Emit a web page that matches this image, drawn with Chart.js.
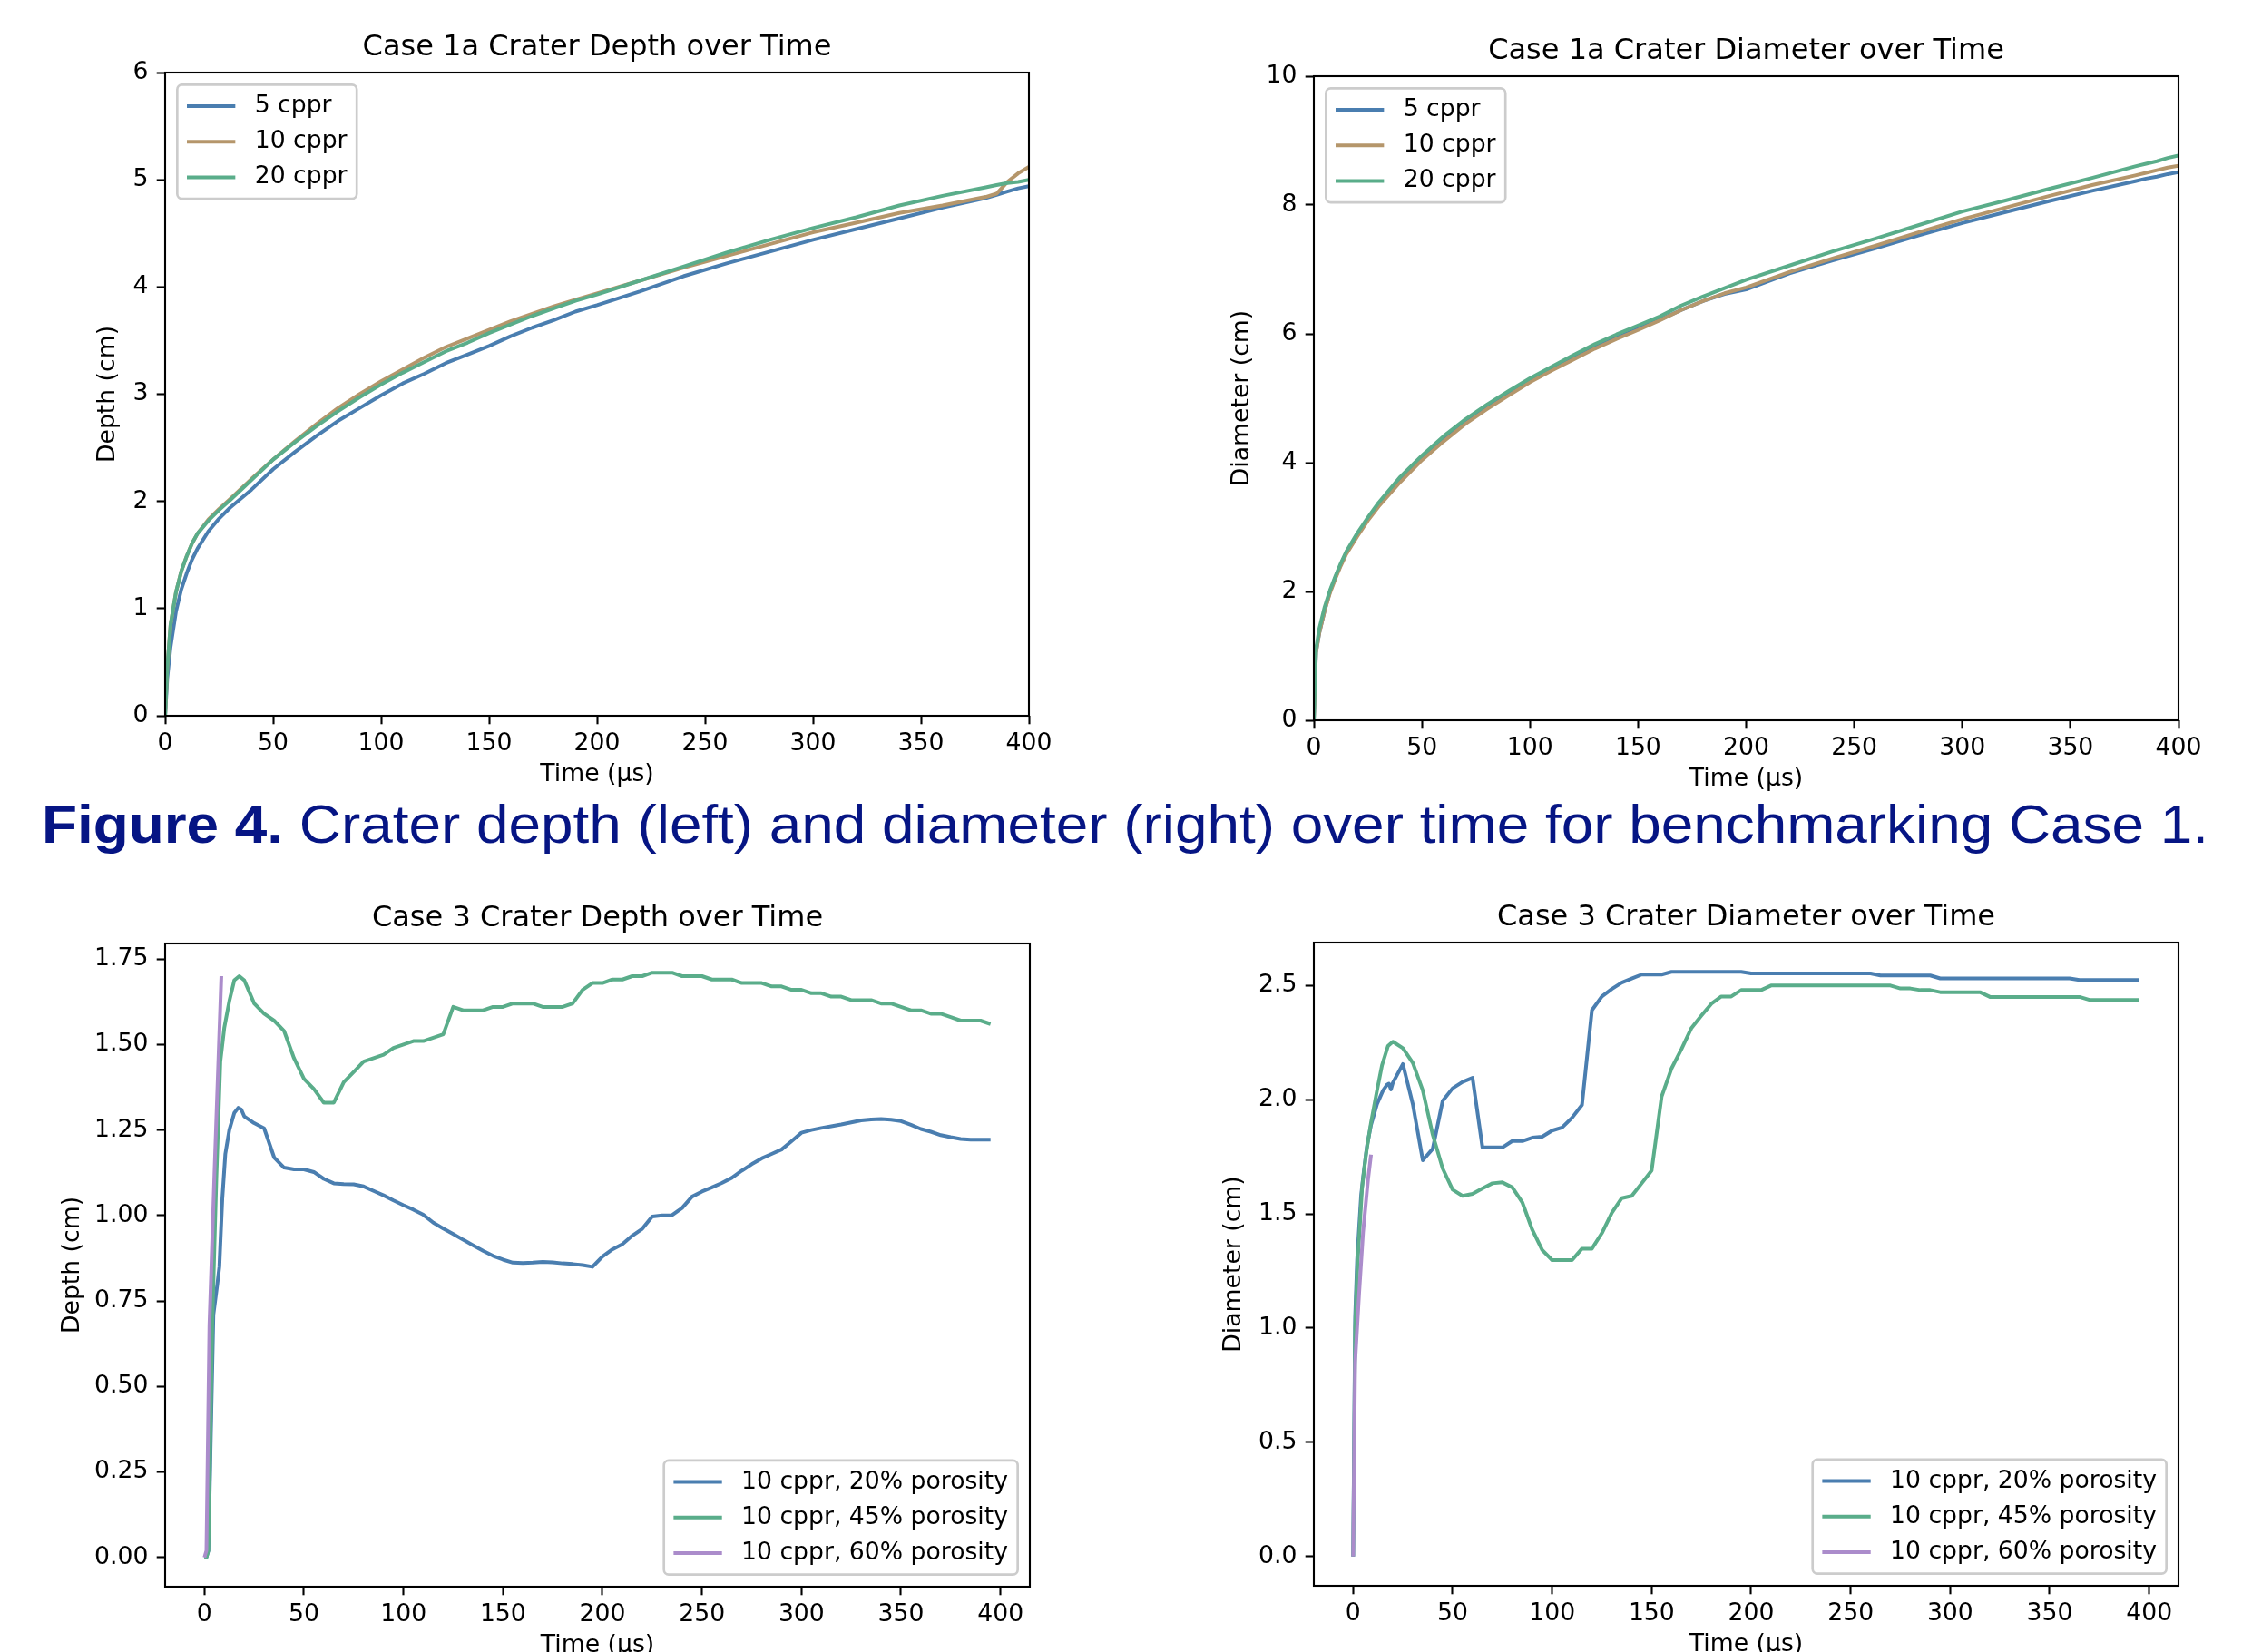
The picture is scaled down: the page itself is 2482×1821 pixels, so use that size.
<!DOCTYPE html>
<html>
<head>
<meta charset="utf-8">
<script src="https://cdn.jsdelivr.net/npm/chart.js@4.4.1/dist/chart.umd.min.js"></script>
<style>
  html, body { margin: 0; padding: 0; background: #fff; overflow: hidden; width: 2482px; height: 1821px; }
  canvas { position: absolute; }
  #caption {
    position: absolute; left: 46px; top: 879px;
    font-family: "Liberation Sans", Arial, sans-serif; font-size: 60px; line-height: 60px;
    color: #061584; white-space: nowrap; transform-origin: 0 0;
  }
</style>
</head>
<body>
<canvas id="depth1"></canvas>
<canvas id="diam1"></canvas>
<canvas id="depth3"></canvas>
<canvas id="diam3"></canvas>
<div id="caption"><b>Figure 4.</b> Crater depth (left) and diameter (right) over time for benchmarking Case 1.</div>
<script>
// ---- data ----
const case1Time = [0, 1, 2.5, 5, 7.5, 10, 12.5, 15, 20, 25, 30, 40, 50, 60, 70, 80, 90, 100, 110, 120,
  130, 140, 150, 160, 170, 180, 190, 200, 220, 240, 260, 280, 300, 320, 340, 360, 380, 385, 390, 395, 400];

const depth5 = [0, 0.35, 0.64, 0.97, 1.18, 1.33, 1.46, 1.56, 1.72, 1.84, 1.94, 2.11, 2.30, 2.46, 2.61, 2.75, 2.87, 2.99, 3.10, 3.19,
  3.29, 3.37, 3.45, 3.54, 3.62, 3.69, 3.77, 3.83, 3.96, 4.10, 4.22, 4.33, 4.44, 4.54, 4.64, 4.74, 4.83, 4.86, 4.89, 4.92, 4.94];
const depth10 = [0, 0.45, 0.85, 1.15, 1.35, 1.49, 1.61, 1.70, 1.83, 1.93, 2.02, 2.21, 2.39, 2.56, 2.72, 2.87, 3.00, 3.12, 3.23, 3.34,
  3.44, 3.52, 3.60, 3.68, 3.75, 3.82, 3.88, 3.94, 4.06, 4.18, 4.29, 4.40, 4.51, 4.60, 4.69, 4.76, 4.84, 4.87, 4.98, 5.06, 5.12];
const depth20 = [0, 0.45, 0.85, 1.15, 1.35, 1.49, 1.61, 1.70, 1.82, 1.92, 2.01, 2.20, 2.39, 2.55, 2.70, 2.84, 2.97, 3.09, 3.20, 3.30,
  3.40, 3.48, 3.57, 3.65, 3.73, 3.80, 3.87, 3.93, 4.06, 4.19, 4.32, 4.44, 4.55, 4.65, 4.76, 4.85, 4.93, 4.95, 4.97, 4.98, 5.00];

const diam5 = [0, 1.05, 1.35, 1.70, 2.00, 2.22, 2.42, 2.60, 2.87, 3.13, 3.35, 3.75, 4.09, 4.38, 4.64, 4.86, 5.07, 5.28, 5.45, 5.63,
  5.79, 5.94, 6.08, 6.22, 6.37, 6.51, 6.62, 6.69, 6.94, 7.14, 7.33, 7.53, 7.72, 7.89, 8.06, 8.22, 8.37, 8.41, 8.44, 8.48, 8.51];
const diam10 = [0, 1.05, 1.35, 1.70, 1.98, 2.20, 2.40, 2.58, 2.85, 3.10, 3.32, 3.70, 4.04, 4.33, 4.60, 4.83, 5.04, 5.25, 5.43, 5.60,
  5.77, 5.92, 6.06, 6.21, 6.37, 6.51, 6.63, 6.72, 6.96, 7.17, 7.37, 7.58, 7.78, 7.96, 8.14, 8.31, 8.46, 8.50, 8.54, 8.58, 8.61];
const diam20 = [0, 1.10, 1.42, 1.76, 2.02, 2.24, 2.44, 2.62, 2.90, 3.15, 3.38, 3.78, 4.11, 4.41, 4.67, 4.90, 5.11, 5.31, 5.49, 5.67,
  5.84, 5.99, 6.13, 6.27, 6.44, 6.58, 6.71, 6.84, 7.06, 7.28, 7.48, 7.69, 7.90, 8.07, 8.25, 8.42, 8.60, 8.64, 8.68, 8.73, 8.77];

// case 3: [time, value]
const c3Depth20 = [[0,0],[1,0],[2,0.02],[4.5,0.71],[6.5,0.80],[7.5,0.85],[9,1.05],[10.5,1.18],[12.5,1.25],[15,1.30],
  [17,1.315],[18.5,1.31],[20,1.29],[25,1.27],[30,1.255],[35,1.17],[40,1.14],[45,1.135],[50,1.135],[55,1.127],[60,1.107],
  [65,1.094],[70,1.092],[75,1.091],[80,1.085],[85,1.072],[90,1.059],[95,1.044],[100,1.03],[105,1.017],[110,1.002],
  [115,0.979],[120,0.962],[125,0.946],[130,0.929],[135,0.913],[140,0.897],[145,0.882],[150,0.871],[155,0.862],[160,0.861],
  [165,0.862],[170,0.864],[175,0.863],[180,0.86],[185,0.858],[190,0.855],[195,0.85],[200,0.88],[205,0.901],[210,0.916],
  [215,0.941],[220,0.961],[225,0.997],[230,1.0],[235,1.001],[240,1.022],[245,1.055],[250,1.07],[255,1.082],[260,1.095],
  [265,1.11],[270,1.131],[275,1.15],[280,1.167],[285,1.18],[290,1.193],[295,1.217],[300,1.242],[305,1.25],[310,1.256],
  [315,1.261],[320,1.266],[325,1.272],[330,1.278],[335,1.281],[340,1.282],[345,1.28],[350,1.276],[355,1.265],[360,1.253],
  [365,1.245],[370,1.235],[375,1.229],[380,1.224],[385,1.222],[390,1.222],[395,1.222]];
const c3Depth45 = [[0,0],[1,0],[2,0.02],[4,0.70],[6,1.11],[8,1.45],[10,1.55],[12.5,1.627],[15,1.688],[17.5,1.70],[20,1.688],
  [25,1.62],[30,1.59],[35,1.57],[40,1.54],[45,1.46],[50,1.40],[55,1.37],[60,1.33],[65,1.33],[70,1.39],[75,1.42],[80,1.45],
  [85,1.46],[90,1.47],[95,1.49],[100,1.50],[105,1.51],[110,1.51],[115,1.52],[120,1.53],[125,1.61],[130,1.60],[135,1.60],
  [140,1.60],[145,1.61],[150,1.61],[155,1.62],[160,1.62],[165,1.62],[170,1.61],[175,1.61],[180,1.61],[185,1.62],[190,1.66],
  [195,1.68],[200,1.68],[205,1.69],[210,1.69],[215,1.70],[220,1.70],[225,1.71],[230,1.71],[235,1.71],[240,1.70],[245,1.70],
  [250,1.70],[255,1.69],[260,1.69],[265,1.69],[270,1.68],[275,1.68],[280,1.68],[285,1.67],[290,1.67],[295,1.66],[300,1.66],
  [305,1.65],[310,1.65],[315,1.64],[320,1.64],[325,1.63],[330,1.63],[335,1.63],[340,1.62],[345,1.62],[350,1.61],[355,1.60],
  [360,1.60],[365,1.59],[370,1.59],[375,1.58],[380,1.57],[385,1.57],[390,1.57],[395,1.56]];
const c3Depth60 = [[0,0],[1,0.02],[2.5,0.68],[5,1.12],[8.5,1.70]];

const c3Diam20 = [[0,0],[1,1.05],[2,1.30],[4,1.58],[5,1.66],[7,1.80],[9,1.89],[12,1.98],[15,2.04],[17,2.065],[18,2.07],
  [19,2.045],[20,2.075],[25,2.156],[30,1.98],[35,1.735],[40,1.785],[45,1.995],[50,2.05],[55,2.078],[60,2.096],[65,1.791],
  [70,1.791],[75,1.791],[80,1.819],[85,1.819],[90,1.834],[95,1.838],[100,1.865],[105,1.878],[110,1.921],[115,1.977],
  [120,2.392],[125,2.452],[130,2.485],[135,2.513],[140,2.531],[145,2.548],[150,2.548],[155,2.548],[160,2.56],[165,2.56],
  [170,2.56],[175,2.56],[180,2.56],[185,2.56],[190,2.56],[195,2.56],[200,2.553],[205,2.553],[210,2.553],[215,2.553],
  [220,2.553],[225,2.553],[230,2.553],[235,2.553],[240,2.553],[245,2.553],[250,2.553],[255,2.553],[260,2.553],[265,2.544],
  [270,2.544],[275,2.544],[280,2.544],[285,2.544],[290,2.544],[295,2.531],[300,2.531],[305,2.531],[310,2.531],[315,2.531],
  [320,2.531],[325,2.531],[330,2.531],[335,2.531],[340,2.531],[345,2.531],[350,2.531],[355,2.531],[360,2.531],[365,2.524],
  [370,2.524],[375,2.524],[380,2.524],[385,2.524],[390,2.524],[395,2.524]];
const c3Diam45 = [[0,0],[1,1.0],[2,1.246],[4.5,1.616],[6.5,1.764],[9,1.90],[12,2.04],[14.5,2.15],[17.5,2.235],[20,2.254],
  [25,2.226],[30,2.161],[35,2.041],[40,1.847],[45,1.699],[50,1.606],[55,1.579],[60,1.588],[65,1.612],[70,1.634],[75,1.638],
  [80,1.616],[85,1.551],[90,1.431],[95,1.342],[100,1.298],[105,1.298],[110,1.298],[115,1.348],[120,1.348],[125,1.416],
  [130,1.505],[135,1.569],[140,1.579],[145,1.634],[150,1.69],[155,2.013],[160,2.137],[165,2.222],[170,2.314],[175,2.368],
  [180,2.42],[185,2.452],[190,2.452],[195,2.48],[200,2.48],[205,2.48],[210,2.50],[215,2.50],[220,2.50],[225,2.50],
  [230,2.50],[235,2.50],[240,2.50],[245,2.50],[250,2.50],[255,2.50],[260,2.50],[265,2.50],[270,2.50],[275,2.487],
  [280,2.487],[285,2.48],[290,2.48],[295,2.471],[300,2.471],[305,2.471],[310,2.471],[315,2.471],[320,2.45],[325,2.45],
  [330,2.45],[335,2.45],[340,2.45],[345,2.45],[350,2.45],[355,2.45],[360,2.45],[365,2.45],[370,2.437],[375,2.437],
  [380,2.437],[385,2.437],[390,2.437],[395,2.437]];
const c3Diam60 = [[0,0],[1,0.85],[3,1.15],[5,1.42],[7.5,1.65],[9,1.76]];

const case1XTicks = [0, 50, 100, 150, 200, 250, 300, 350, 400];
const case3XTicks = [0, 50, 100, 150, 200, 250, 300, 350, 400];
const depth1YTicks = [0, 1, 2, 3, 4, 5, 6];
const diam1YTicks = [0, 2, 4, 6, 8, 10];
const depth3YTicks = [0, 0.25, 0.5, 0.75, 1.0, 1.25, 1.5, 1.75];
const diam3YTicks = [0, 0.5, 1.0, 1.5, 2.0, 2.5];

const case1Labels = ["5 cppr", "10 cppr", "20 cppr"];
const case3Labels = ["10 cppr, 20% porosity", "10 cppr, 45% porosity", "10 cppr, 60% porosity"];

const BLUE = "#4a7eb0", TAN = "#b5966b", GREEN = "#5aad8a", PURPLE = "#ab8ccb";

// ---- drawing ----
const FONT = "DejaVu Sans";
const FS = 26.67;
Chart.defaults.font.family = FONT;
Chart.defaults.color = "#000";

function zip(xs, ys) { return xs.map((x, i) => ({ x: x, y: ys[i] })); }
function fromPairs(p) { return p.map(d => ({ x: d[0], y: d[1] })); }

// axes box drawn over the lines like matplotlib spines
const framePlugin = {
  id: "frame",
  afterDatasetsDraw(chart) {
    const { ctx, chartArea: a } = chart;
    ctx.save();
    ctx.strokeStyle = "#000";
    ctx.lineWidth = 2.1;
    ctx.strokeRect(a.left, a.top, a.right - a.left, a.bottom - a.top);
    ctx.restore();
  }
};

// legend inside the axes, matplotlib-like
const boxLegend = {
  id: "boxLegend",
  afterDraw(chart, args, opts) {
    const pad = 0.4 * FS, handle = 2 * FS, gap = 0.8 * FS, spacing = 0.5 * FS, rowH = 25.9, edge = 0.5 * FS;
    const ctx = chart.ctx, a = chart.chartArea;
    const sets = chart.data.datasets;
    ctx.save();
    ctx.font = FS + "px \"" + FONT + "\"";
    const tw = Math.max(...sets.map(d => ctx.measureText(d.label).width));
    const w = 2 * pad + handle + gap + tw;
    const h = 2 * pad + sets.length * rowH + (sets.length - 1) * spacing;
    const x = opts.corner === "lower right" ? a.right - edge - w : a.left + edge;
    const y = opts.corner === "lower right" ? a.bottom - edge - h : a.top + edge;
    ctx.beginPath();
    ctx.roundRect(x, y, w, h, 5.3);
    ctx.fillStyle = "rgba(255,255,255,0.8)";
    ctx.fill();
    ctx.strokeStyle = "#cccccc";
    ctx.lineWidth = 2.67;
    ctx.stroke();
    sets.forEach((d, i) => {
      const cy = y + pad + rowH / 2 + i * (rowH + spacing);
      ctx.strokeStyle = d.borderColor;
      ctx.lineWidth = 4;
      ctx.lineCap = "square";
      ctx.beginPath();
      ctx.moveTo(x + pad + 2, cy);
      ctx.lineTo(x + pad + handle - 2, cy);
      ctx.stroke();
      ctx.fillStyle = "#000";
      ctx.textBaseline = "middle";
      ctx.textAlign = "left";
      ctx.fillText(d.label, x + pad + handle + gap, cy);
    });
    ctx.restore();
  }
};

function buildChart(id, cfg) {
  const p = cfg.plot;
  const canvas = document.getElementById(id);
  const w = 170 + (p.right - p.left) + 40;
  const h = 80 + (p.bottom - p.top) + 100;
  canvas.width = w;
  canvas.height = h;
  canvas.style.left = (p.left - 170) + "px";
  canvas.style.top = (p.top - 80) + "px";
  canvas.style.width = w + "px";
  canvas.style.height = h + "px";

  const tickGrid = { display: true, drawOnChartArea: false, drawTicks: true, tickLength: 9.3, tickWidth: 2.1, tickColor: "#000" };

  new Chart(canvas, {
    type: "line",
    data: {
      datasets: cfg.series.map((s, i) => ({
        label: s.label,
        data: s.data,
        borderColor: s.color,
        backgroundColor: s.color,
        borderWidth: 4,
        pointRadius: 0,
        tension: 0,
        fill: false,
        clip: 0,
        borderJoinStyle: "round",
        order: cfg.series.length - i
      }))
    },
    options: {
      responsive: false,
      animation: false,
      devicePixelRatio: 1,
      layout: { padding: { left: 0, top: 0, right: 40, bottom: 0 } },
      plugins: {
        legend: { display: false },
        tooltip: { enabled: false },
        title: {
          display: true, text: cfg.title, fullSize: false, color: "#000",
          font: { family: FONT, size: 32, weight: "normal", lineHeight: 1.2 },
          padding: { top: 33.7, bottom: 7.9 }
        },
        boxLegend: { corner: cfg.legendCorner }
      },
      scales: {
        x: {
          type: "linear",
          min: cfg.xMin, max: cfg.xMax,
          grid: tickGrid,
          border: { display: false },
          afterBuildTicks: sc => { sc.ticks = cfg.xTicks.map(v => ({ value: v })); },
          afterFit: sc => { sc.height = 100; },
          ticks: { autoSkip: false, maxRotation: 0, padding: 6, color: "#000",
                   font: { family: FONT, size: FS }, callback: v => String(v) },
          title: { display: true, text: "Time (μs)", color: "#000",
                   font: { family: FONT, size: FS, lineHeight: 1.2 }, padding: { top: 0, bottom: 18.7 } }
        },
        y: {
          type: "linear",
          min: cfg.yMin, max: cfg.yMax,
          grid: tickGrid,
          border: { display: false },
          afterBuildTicks: sc => { sc.ticks = cfg.yTicks.map(v => ({ value: v })); },
          afterFit: sc => { sc.width = 170; },
          ticks: { autoSkip: false, padding: 9.3, color: "#000",
                   font: { family: FONT, size: FS }, callback: v => Number(v).toFixed(cfg.yDecimals) },
          title: { display: true, text: cfg.yTitle, color: "#000",
                   font: { family: FONT, size: FS, lineHeight: 1.2 }, padding: { top: cfg.yTitlePad, bottom: 0 } }
        }
      }
    },
    plugins: [framePlugin, boxLegend]
  });
}

buildChart("depth1", {
  plot: { left: 182, top: 80, right: 1134, bottom: 789 },
  title: "Case 1a Crater Depth over Time", yTitle: "Depth (cm)", yTitlePad: 91.4,
  xMin: 0, xMax: 400, yMin: 0, yMax: 6, xTicks: case1XTicks, yTicks: depth1YTicks, yDecimals: 0,
  legendCorner: "upper left",
  series: [
    { label: case1Labels[0], color: BLUE, data: zip(case1Time, depth5) },
    { label: case1Labels[1], color: TAN, data: zip(case1Time, depth10) },
    { label: case1Labels[2], color: GREEN, data: zip(case1Time, depth20) }
  ]
});

buildChart("diam1", {
  plot: { left: 1448, top: 84, right: 2401, bottom: 794 },
  title: "Case 1a Crater Diameter over Time", yTitle: "Diameter (cm)", yTitlePad: 75.5,
  xMin: 0, xMax: 400, yMin: 0, yMax: 10, xTicks: case1XTicks, yTicks: diam1YTicks, yDecimals: 0,
  legendCorner: "upper left",
  series: [
    { label: case1Labels[0], color: BLUE, data: zip(case1Time, diam5) },
    { label: case1Labels[1], color: TAN, data: zip(case1Time, diam10) },
    { label: case1Labels[2], color: GREEN, data: zip(case1Time, diam20) }
  ]
});

buildChart("depth3", {
  plot: { left: 182, top: 1040, right: 1135, bottom: 1749 },
  title: "Case 3 Crater Depth over Time", yTitle: "Depth (cm)", yTitlePad: 51.8,
  xMin: -19.75, xMax: 414.75, yMin: -0.0855, yMax: 1.7955, xTicks: case3XTicks, yTicks: depth3YTicks, yDecimals: 2,
  legendCorner: "lower right",
  series: [
    { label: case3Labels[0], color: BLUE, data: fromPairs(c3Depth20) },
    { label: case3Labels[1], color: GREEN, data: fromPairs(c3Depth45) },
    { label: case3Labels[2], color: PURPLE, data: fromPairs(c3Depth60) }
  ]
});

buildChart("diam3", {
  plot: { left: 1448, top: 1039, right: 2401, bottom: 1748 },
  title: "Case 3 Crater Diameter over Time", yTitle: "Diameter (cm)", yTitlePad: 66,
  xMin: -19.75, xMax: 414.75, yMin: -0.128, yMax: 2.688, xTicks: case3XTicks, yTicks: diam3YTicks, yDecimals: 1,
  legendCorner: "lower right",
  series: [
    { label: case3Labels[0], color: BLUE, data: fromPairs(c3Diam20) },
    { label: case3Labels[1], color: GREEN, data: fromPairs(c3Diam45) },
    { label: case3Labels[2], color: PURPLE, data: fromPairs(c3Diam60) }
  ]
});

// stretch the caption to the width it has in the figure
const cap = document.getElementById("caption");
const capW = cap.getBoundingClientRect().width;
cap.style.transform = "scaleX(" + (2388 / capW) + ")";
</script>
</body>
</html>
